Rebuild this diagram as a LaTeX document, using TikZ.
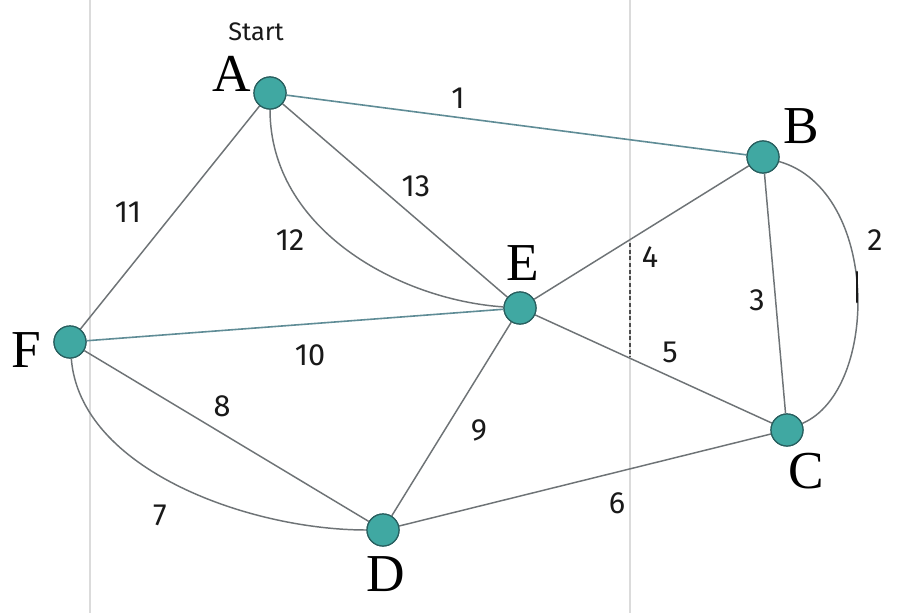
\documentclass[tikz,border=0pt]{standalone}
\usepackage{fontspec}
\setmainfont{Liberation Serif}
\newfontfamily\handfont{Fira Sans}
\begin{document}
\begin{tikzpicture}[x=0.75pt,y=-0.75pt,
  vert/.style={circle,minimum size=24pt,inner sep=0pt,fill=nodeteal,draw=nodeedge,line width=0.9pt},
  edge/.style={draw=edgegray,line width=1.1pt},
  bedge/.style={draw=edgeblue,line width=1.2pt},
  vlabel/.style={font=\fontsize{40}{42}\selectfont,text=black,inner sep=0pt},
  wlabel/.style={font=\handfont\fontsize{23}{25}\selectfont,text=inkblack,inner sep=0pt},
  scanline/.style={draw=black!14,line width=1pt}]
\definecolor{nodeteal}{RGB}{64,168,162}
\definecolor{nodeedge}{RGB}{40,95,95}
\definecolor{edgegray}{RGB}{110,115,118}
\definecolor{edgeblue}{RGB}{95,140,150}
\definecolor{inkblack}{RGB}{25,25,25}
\useasboundingbox (0,0) rectangle (898,613);
\fill[white] (0,0) rectangle (898,613);
% scan lines
\coordinate (s1t) at (90,0); \coordinate (s1b) at (90,613);
\coordinate (s2t) at (630,0); \coordinate (s2b) at (630,613);
\draw[scanline] (s1t) -- (s1b);
\draw[scanline] (s2t) -- (s2b);
% vertices
\node[vert] (A) at (270,93) {};
\node[vert] (B) at (763,157) {};
\node[vert] (C) at (787,430) {};
\node[vert] (D) at (383,530) {};
\node[vert] (E) at (520,308) {};
\node[vert] (F) at (70,342) {};
% edges
\draw[bedge] (A) -- (B);
\draw[edge] (A) -- (E);
\draw[edge] (A) .. controls (270,230) and (400,300) .. (E);
\draw[edge] (A) -- (F);
\draw[edge] (B) -- (C);
\draw[edge] (B) .. controls (880,190) and (880,390) .. (C);
\draw[edge] (E) -- (B);
\draw[edge] (E) -- (C);
\draw[edge] (D) -- (C);
\draw[edge] (E) -- (D);
\draw[bedge] (F) -- (E);
\draw[edge] (F) -- (D);
\draw[edge] (F) .. controls (80,470) and (250,530) .. (D);
% redraw vertices on top
\foreach \n in {A,B,C,D,E,F} \node[vert] at (\n) {};
% pen marks
\coordinate (p1) at (630,243); \coordinate (p2) at (630,357);
\draw[draw=black!70,line width=0.9pt,densely dashed] (p1) -- (p2);
\coordinate (q1) at (857,272); \coordinate (q2) at (857,302);
\draw[draw=inkblack,line width=2pt,line cap=round] (q1) -- (q2);
% vertex labels
\node[vlabel] (lA) at (232,74) {A};
\node[vlabel] (lB) at (801,126) {B};
\node[vlabel] (lC) at (806,471) {C};
\node[vlabel] (lD) at (386,574) {D};
\node[vlabel] (lE) at (523,263) {E};
\node[vlabel] (lF) at (26,350) {F};
% start
\node[wlabel,font=\handfont\fontsize{19}{21}\selectfont] (st) at (256,32) {Start};
% weights
\node[wlabel] (w1) at (458,98) {1};
\node[wlabel] (w2) at (875,240) {2};
\node[wlabel] (w3) at (757,300) {3};
\node[wlabel] (w4) at (650,257) {4};
\node[wlabel] (w5) at (670,352) {5};
\node[wlabel] (w6) at (617,503) {6};
\node[wlabel] (w7) at (160,515) {7};
\node[wlabel] (w8) at (222,406) {8};
\node[wlabel] (w9) at (479,430) {9};
\node[wlabel] (w10) at (310,355) {10};
\node[wlabel] (w11) at (128,212) {11};
\node[wlabel] (w12) at (290,240) {12};
\node[wlabel] (w13) at (416,186) {13};
\end{tikzpicture}
\end{document}
